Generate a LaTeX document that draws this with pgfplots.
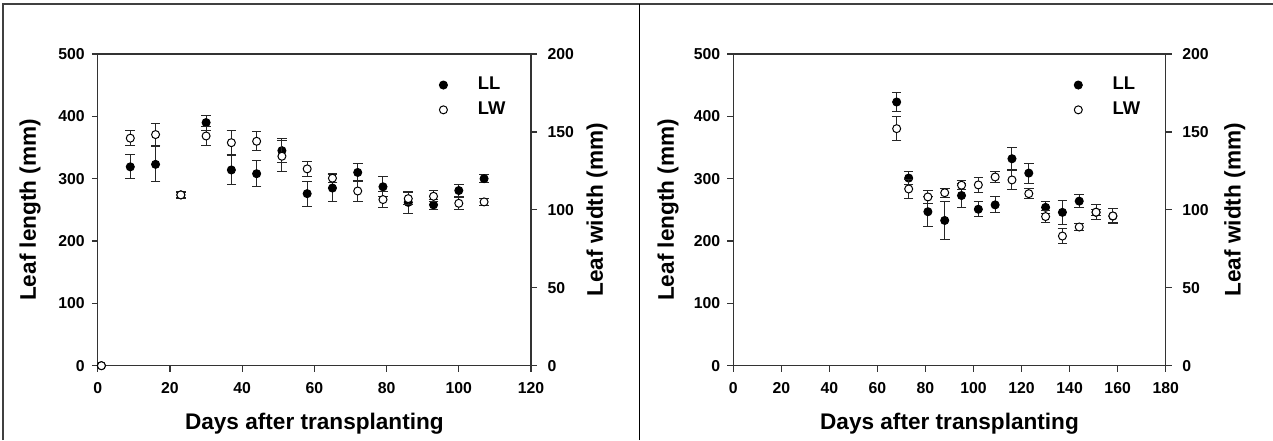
\documentclass[border=0pt]{standalone}
\usepackage{pgfplots}
\usepackage{pgfplotstable}
\pgfplotsset{compat=1.18}
\usepackage{fontspec}
\setmainfont{Liberation Sans}

\pgfplotstableread{
x y e
1 0 0
9 319 19
16 323 28
23 274 4
30 390 12
37 314 24
44 308 21
51 345 19
58 276 20
65 285 21
72 310 14
79 287 16
86 262 18
93 258 8
100 281 9
107 300 6
}\LLa
\pgfplotstableread{
x y e
1 0 0
9 146 5
16 148.3 7
23 109.6 2
30 147.4 6
37 143.1 8
44 144 6
51 134.4 10
58 126.3 5
65 120.3 3
72 112.1 7
79 106.6 5
86 107.2 4
93 108.7 3.5
100 104.2 4
107 105.1 2
}\LWa
\pgfplotstableread{
x y e
68 423 16
73 301 10
81 247 24
88 233 30
95 273 20
102 251 12
109 258 13
116 332 18
123 309 16
130 254 10
137 246 19
144 264 10
151 246 5
158 240 12
}\LLb
\pgfplotstableread{
x y e
68 152.1 7.5
73 113.4 6
81 108.3 4
88 111 3
95 115.8 3
102 116 5
109 121.1 3.5
116 119.2 6
123 110.4 3
130 95.7 4
137 83.2 5
144 89 2
151 98.5 5
158 96.1 4.5
}\LWb

\pgfplotsset{
 base/.style={
  scale only axis, width=216.6pt, height=155.85pt, anchor=south west,
  ymin=0,
  tick align=outside, major tick length=3pt,
  /pgf/number format/assume math mode=true,
  tick label style={font=\bfseries\fontsize{7.9}{9}\selectfont},
  xticklabel style={yshift=-2pt},
  label style={font=\bfseries\fontsize{11.3}{13}\selectfont},
  axis line style={black!80, line width=0.6pt},
  tick style={black!80, line width=0.6pt},
  clip=false,
 },
 errs/.style={
  error bars/y dir=both, error bars/y explicit,
  error bars/error bar style={black!85, line width=0.5pt},
  error bars/error mark options={rotate=90, mark size=2.4pt, black!85, line width=0.5pt},
 },
 llplot/.style={only marks, mark=*, mark size=2pt, mark options={fill=black, draw=black, line width=0.5pt}, errs},
 lwplot/.style={only marks, mark=*, mark size=2pt, mark options={fill=white, draw=black, line width=0.5pt}, errs},
 leg/.style={
  legend style={draw=none, fill=none, inner sep=0pt, row sep=0pt, column sep=0pt,
    nodes={inner sep=0pt}, font=\bfseries\fontsize{9.2}{10}\selectfont,
    at={(axis description cs:0.7775,0.9415)}, anchor=north west},
  legend cell align=left,
  legend image code/.code={\path (-4pt,-6pt) (17pt,6pt); \draw[##1] plot coordinates {(0pt,0pt)};},
 },
}

\begin{document}
\begin{tikzpicture}
\useasboundingbox (0,0) rectangle (636.5pt,220pt);
\draw[black!75, line width=0.8pt] (1.65pt,218pt) -- (636.5pt,218pt);
\draw[black!75, line width=1pt] (1.65pt,0pt) -- (1.65pt,218.4pt);
\draw[black, line width=0.5pt] (319.5pt,0pt) -- (319.5pt,218pt);

% ---------- left panel ----------
\begin{axis}[base, at={(48.9pt,37.15pt)},
 xmin=0, xmax=120, xtick={0,20,...,120}, ymax=500, ytick={0,100,...,500},
 xtick pos=lower, ytick pos=left,
 xlabel={Days after transplanting}, ylabel={Leaf length (mm)},
 xlabel style={at={(axis description cs:0.5,-0.1854)}, anchor=center},
 ylabel style={at={(axis description cs:-0.1565,0.5)}, anchor=center},
]
\addplot[llplot] table[x=x, y=y, y error=e] {\LLa};
\end{axis}
\begin{axis}[base, at={(48.9pt,37.15pt)},
 xmin=0, xmax=120, ymax=200, ytick={0,50,...,200},
 axis y line*=right, axis x line=none, ylabel={Leaf width (mm)},
 yticklabel style={xshift=1.8pt},
 ylabel style={at={(axis description cs:1.1524,0.5)}, anchor=center},
 leg,
]
\addplot[lwplot, forget plot] table[x=x, y=y, y error=e] {\LWa};
\addlegendimage{only marks, mark=*, mark size=2pt, mark options={fill=black, draw=black, line width=0.5pt}}
\addlegendentry{LL}
\addlegendimage{only marks, mark=*, mark size=2pt, mark options={fill=white, draw=black, line width=0.5pt}}
\addlegendentry{LW}
\end{axis}

% ---------- right panel ----------
\begin{axis}[base, at={(366.65pt,37.15pt)}, width=216.2pt,
 xmin=0, xmax=180, xtick={0,20,...,180}, ymax=500, ytick={0,100,...,500},
 xtick pos=lower, ytick pos=left,
 xlabel={Days after transplanting}, ylabel={Leaf length (mm)},
 xlabel style={at={(axis description cs:0.5,-0.1854)}, anchor=center},
 ylabel style={at={(axis description cs:-0.151,0.5)}, anchor=center},
]
\addplot[llplot] table[x=x, y=y, y error=e] {\LLb};
\end{axis}
\begin{axis}[base, at={(366.65pt,37.15pt)}, width=216.2pt,
 xmin=0, xmax=180, ymax=200, ytick={0,50,...,200},
 axis y line*=right, axis x line=none, ylabel={Leaf width (mm)},
 yticklabel style={xshift=1.8pt},
 ylabel style={at={(axis description cs:1.160,0.5)}, anchor=center},
 leg,
]
\addplot[lwplot, forget plot] table[x=x, y=y, y error=e] {\LWb};
\addlegendimage{only marks, mark=*, mark size=2pt, mark options={fill=black, draw=black, line width=0.5pt}}
\addlegendentry{LL}
\addlegendimage{only marks, mark=*, mark size=2pt, mark options={fill=white, draw=black, line width=0.5pt}}
\addlegendentry{LW}
\end{axis}
\end{tikzpicture}
\end{document}
